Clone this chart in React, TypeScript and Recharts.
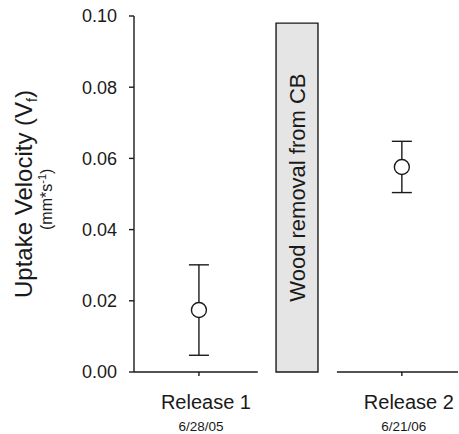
import {
  ComposedChart,
  Scatter,
  ErrorBar,
  XAxis,
  YAxis,
  ReferenceArea,
  ReferenceLine,
} from "recharts";

// releases, placed on a numeric x scale so the axis can be broken around the event box
const releases = ["Release 1", "Release 2"];
const releaseDates = ["6/28/05", "6/21/06"];
const releasePos = [1, 4];
const uptake = [0.0174, 0.0576];
const uptakeErr = [0.0127, 0.0072];

const yTicks = [0, 0.02, 0.04, 0.06, 0.08, 0.1];
const xDomain = [0.04, 4.83];
const axisBreak = [1.87, 3.04];
const eventSpan = [2.14, 2.76];
const eventTop = 0.098;
const eventLabel = "Wood removal from CB";

const data = releases.map((name, i) => ({
  name,
  date: releaseDates[i],
  x: releasePos[i],
  y: uptake[i],
  err: uptakeErr[i],
}));

const FONT = "'Liberation Sans', Arial, Helvetica, sans-serif";
const INK = "#1a1a1a";

const OpenCircle = (p: any) => (
  <circle cx={p.cx} cy={p.cy} r={7.5} fill="#fff" stroke={INK} strokeWidth={1.4} />
);

const ReleaseTick = ({ x, y, payload }: any) => {
  const i = releasePos.indexOf(payload.value);
  if (i < 0) return null;
  return (
    <g fontFamily={FONT} fill={INK}>
      <text x={x + 7} y={y + 33} textAnchor="middle" fontSize={20}>
        {releases[i]}
      </text>
      <text x={x + 2} y={y + 55} textAnchor="middle" fontSize={13.5}>
        {releaseDates[i]}
      </text>
    </g>
  );
};

// rotated text is anchored at its start (bottom) so the sub/superscripts don't shift it
const YLabel = ({ viewBox }: any) => {
  const mid = viewBox.y + viewBox.height / 2;
  const mainY = mid + 104;
  const subY = mid + 36;
  return (
    <g fontFamily={FONT} fill={INK}>
      <text x={32} y={mainY} transform={`rotate(-90 32 ${mainY})`} fontSize={24}>
        Uptake Velocity (V
        <tspan fontSize={14.5} dy={5}>f</tspan>
        <tspan dy={-5}>)</tspan>
      </text>
      <text x={52} y={subY} transform={`rotate(-90 52 ${subY})`} fontSize={16}>
        (mm*s
        <tspan fontSize={11} dy={-6}>-1</tspan>
        <tspan dy={6}>)</tspan>
      </text>
    </g>
  );
};

const EventLabel = ({ viewBox }: any) => {
  const cx = viewBox.x + viewBox.width / 2 + 8;
  const cy = viewBox.y + viewBox.height / 2 - 10;
  return (
    <text
      x={cx}
      y={cy}
      transform={`rotate(-90 ${cx} ${cy})`}
      textAnchor="middle"
      fontFamily={FONT}
      fontSize={22}
      fill={INK}
    >
      {eventLabel}
    </text>
  );
};

export default function App() {
  return (
    <div style={{ width: 459, height: 434 }}>
      <style>{`body{margin:0}`}</style>
      <ComposedChart width={459} height={434} data={data} margin={{ top: 16, right: 1, bottom: 0, left: 0 }}>
        <XAxis
          type="number"
          dataKey="x"
          domain={xDomain}
          ticks={releasePos}
          axisLine={false}
          tickLine={{ stroke: INK, strokeWidth: 1.4 }}
          tickSize={4}
          tickMargin={0}
          tick={<ReleaseTick />}
          height={62}
          allowDataOverflow
        />
        <YAxis
          type="number"
          dataKey="y"
          domain={[0, 0.1]}
          ticks={yTicks}
          width={134}
          tickFormatter={(v: number) => v.toFixed(2)}
          axisLine={{ stroke: INK, strokeWidth: 1.4 }}
          tickLine={{ stroke: INK, strokeWidth: 1.4 }}
          tickSize={5}
          tickMargin={12}
          tick={{ fontSize: 18, fill: INK, fontFamily: FONT }}
          label={<YLabel />}
          allowDataOverflow
        />
        <ReferenceLine
          segment={[{ x: xDomain[0], y: 0 }, { x: axisBreak[0], y: 0 }]}
          stroke={INK}
          strokeWidth={1.4}
        />
        <ReferenceLine
          segment={[{ x: axisBreak[1], y: 0 }, { x: xDomain[1], y: 0 }]}
          stroke={INK}
          strokeWidth={1.4}
        />
        <ReferenceArea
          x1={eventSpan[0]}
          x2={eventSpan[1]}
          y1={0}
          y2={eventTop}
          fill="#e5e5e5"
          fillOpacity={1}
          stroke={INK}
          strokeWidth={1.4}
          label={<EventLabel />}
        />
        <Scatter dataKey="y" shape={<OpenCircle />} isAnimationActive={false}>
          <ErrorBar dataKey="err" direction="y" width={10} stroke={INK} strokeWidth={1.4} isAnimationActive={false} />
        </Scatter>
      </ComposedChart>
    </div>
  );
}
